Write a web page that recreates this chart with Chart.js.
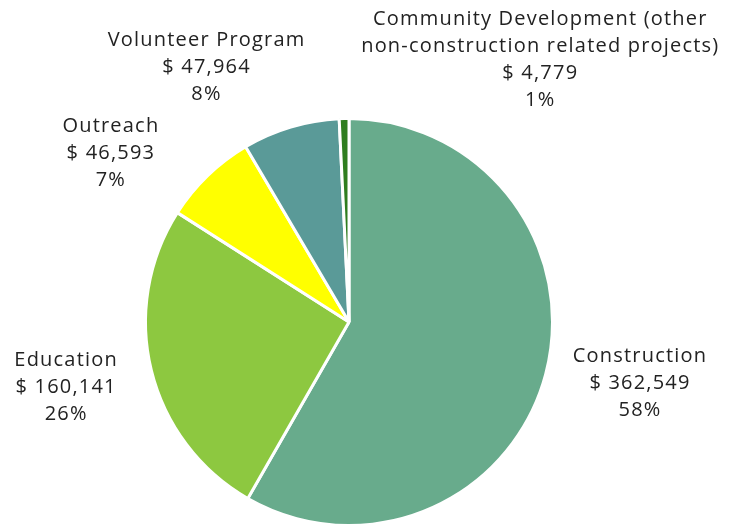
<!DOCTYPE html>
<html>
<head>
<meta charset="utf-8">
<script src="https://cdn.jsdelivr.net/npm/chart.js@4"></script>
<style>
  body { margin:0; background:#fff; }
  #wrap { width:729px; height:528px; position:relative; }
</style>
</head>
<body>
<div id="wrap"><canvas id="pieChart"></canvas></div>
<script>
// Budget split, clockwise from 12 o'clock
const categories = ['Construction', 'Education', 'Outreach', 'Volunteer Program', 'Community Development (other\nnon-construction related projects)'];
const amounts = [362549, 160141, 46593, 47964, 4779];
const colors = ['#68ab8c', '#8dc840', '#ffff00', '#5a9a98', '#2f7d1f'];

// where each label sits, in pie radii from the pie centre
const labelPos = [[1.43, 0.30], [-1.39, 0.32], [-1.17, -0.83], [-0.70, -1.25], [0.94, -1.29]];

const total = amounts.reduce((a, b) => a + b, 0);

const outsideLabels = {
  id: 'outsideLabels',
  afterDraw(chart) {
    const ctx = chart.ctx;
    const arc = chart.getDatasetMeta(0).data[0];
    const cx = arc.x, cy = arc.y, r = arc.outerRadius;
    ctx.save();
    ctx.fillStyle = '#222';
    ctx.font = '20px "Open Sans"';
    ctx.letterSpacing = '1.2px';
    ctx.textAlign = 'center';
    ctx.textBaseline = 'middle';
    categories.forEach((name, i) => {
      const lines = name.split('\n');
      lines.push('$ ' + amounts[i].toLocaleString('en-US'));
      lines.push(Math.round(amounts[i] / total * 100) + '%');
      const x = cx + labelPos[i][0] * r;
      const y = cy + labelPos[i][1] * r;
      const lh = 27;
      const y0 = y - (lines.length - 1) * lh / 2;
      lines.forEach((t, j) => ctx.fillText(t, x, y0 + j * lh));
    });
    ctx.restore();
  }
};

new Chart(document.getElementById('pieChart').getContext('2d'), {
  type: 'pie',
  data: {
    labels: categories,
    datasets: [{
      data: amounts,
      backgroundColor: colors,
      borderColor: '#fff',
      borderWidth: 3
    }]
  },
  options: {
    responsive: true,
    maintainAspectRatio: false,
    animation: false,
    layout: { padding: { left: 144, right: 175, top: 117, bottom: 1 } },
    plugins: {
      legend: { display: false },
      tooltip: { enabled: false }
    }
  },
  plugins: [outsideLabels]
});
</script>
</body>
</html>
